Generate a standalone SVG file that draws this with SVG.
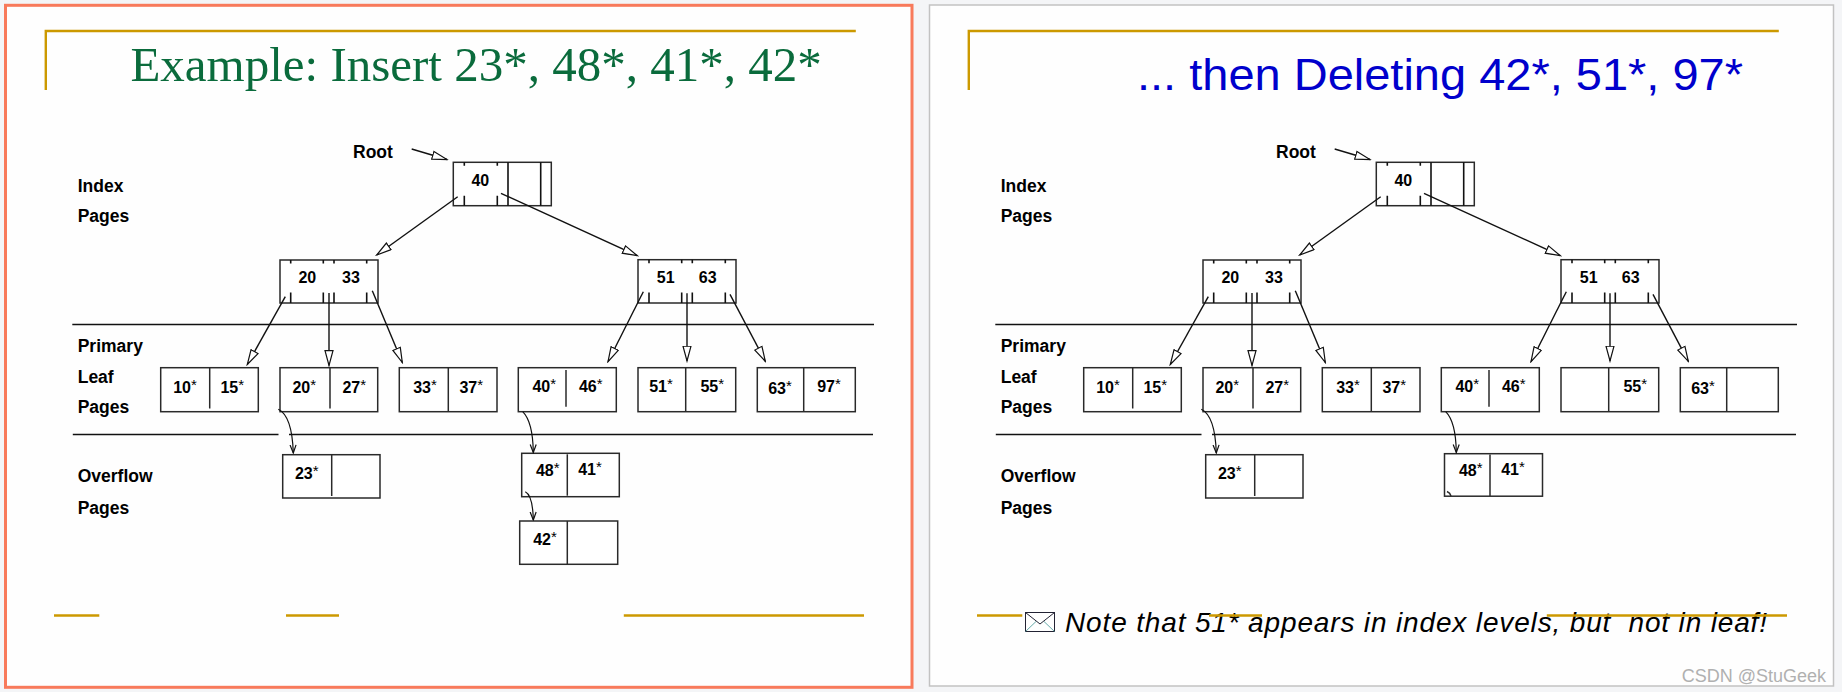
<svg xmlns="http://www.w3.org/2000/svg" width="1842" height="692" viewBox="0 0 1842 692">
<style>
.box{fill:#fff;stroke:#2a2a2a;stroke-width:1.5}
.ln{stroke:#2a2a2a;stroke-width:1.5;fill:none}
.tk{stroke:#111;stroke-width:1.6}
.sep{stroke:#111;stroke-width:1.6}
.lbl{font-family:"Liberation Sans",Arial,sans-serif;font-weight:bold;font-size:17.5px;fill:#000}
.num{font-family:"Liberation Sans",Arial,sans-serif;font-weight:bold;font-size:16px;text-anchor:middle;fill:#000}
.ast{font-weight:normal;font-size:15px;baseline-shift:3px}
.gold{stroke:#cc9900;stroke-width:2.4}
.arr{stroke:#111;stroke-width:1.4;fill:none;marker-end:url(#tri)}
.carr{stroke:#111;stroke-width:1.2;fill:none;marker-end:url(#vee)}
</style>
<defs>
<marker id="tri" markerUnits="userSpaceOnUse" markerWidth="17" markerHeight="11" refX="15.5" refY="5" orient="auto" viewBox="0 0 17 11"><path d="M0.7,1 L15.5,5 L0.7,9 z" fill="#fff" stroke="#111" stroke-width="1.2"/></marker>
<marker id="vee" markerUnits="userSpaceOnUse" markerWidth="10" markerHeight="8" refX="8.5" refY="3.5" orient="auto" viewBox="0 0 10 8"><path d="M0.5,0.5 L8.5,3.5 L0.5,6.5" fill="none" stroke="#111" stroke-width="1.2"/></marker>
</defs>
<rect x="0" y="0" width="1842" height="692" fill="#f4f5f7"/>
<rect id="left-panel" x="5.5" y="5.3" width="906.5" height="682" fill="#fefefe" stroke="#f87a5b" stroke-width="3"/>
<rect id="right-panel" x="929.5" y="5" width="904" height="681" fill="#fefefe" stroke="#c2c2c2" stroke-width="1.5"/>

<!-- titles and slide decorations -->
<g id="left-title">
<path class="gold" d="M45.8,90 V31 H855.8" fill="none"/>
<text x="130.4" y="81" font-family="Liberation Serif, Times New Roman, serif" font-size="49" fill="#0a6b3c">Example: Insert 23*, 48*, 41*, 42*</text>
</g>
<g id="right-title">
<path class="gold" d="M968.8,90 V31 H1778.8" fill="none"/>
<text x="1137" y="90" font-family="Liberation Sans, Arial, sans-serif" font-size="45" fill="#0000cc" textLength="606" lengthAdjust="spacingAndGlyphs">... then Deleting 42*, 51*, 97*</text>
</g>

<!-- LEFT DIAGRAM -->
<g id="left-labels" class="lbl">
<text x="353" y="158">Root</text>
<text x="77.7" y="191.7">Index</text>
<text x="77.7" y="221.7">Pages</text>
<text x="77.7" y="351.7">Primary</text>
<text x="77.7" y="382.7">Leaf</text>
<text x="77.7" y="413.3">Pages</text>
<text x="77.7" y="482">Overflow</text>
<text x="77.7" y="513.5">Pages</text>
</g>
<g id="left-separators">
<line class="sep" x1="72.3" y1="324.5" x2="874" y2="324.5"/>
<line class="sep" x1="72.8" y1="434.5" x2="278.5" y2="434.5"/>
<line class="sep" x1="289" y1="434.5" x2="873" y2="434.5"/>
</g>

<g id="L-root">
<rect class="box" x="453.3" y="162.3" width="98" height="43.4"/>
<path class="tk" d="M464.3,162.3v3.4M497.3,162.3v3.4M464.3,195.7v10M497.3,195.7v10M508,162.3v43.4M540.7,162.3v43.4"/>
<text class="num" x="480.3" y="185.7">40</text>
</g>
<g id="L-idx-20-33">
<rect class="box" x="280" y="260" width="98" height="43"/>
<path class="tk" d="M290.7,260v3.5M323.3,260v3.5M334,260v3.5M366.7,260v3.5M290.7,292.5v10.5M323.3,292.5v10.5M334,292.5v10.5M366.7,292.5v10.5"/>
<text class="num" x="307.3" y="283.3">20</text>
<text class="num" x="351" y="283.3">33</text>
</g>
<g id="L-idx-51-63">
<rect class="box" x="638" y="259.7" width="98" height="43.3"/>
<path class="tk" d="M649,259.7v3.5M681.7,259.7v3.5M692.3,259.7v3.5M725.3,259.7v3.5M649,292.5v10.5M681.7,292.5v10.5M692.3,292.5v10.5M725.3,292.5v10.5"/>
<text class="num" x="665.7" y="283.3">51</text>
<text class="num" x="707.7" y="283.3">63</text>
</g>

<g id="L-leaf-10-15">
<rect class="box" x="160.7" y="367.7" width="97.6" height="44"/>
<line class="ln" x1="209.7" y1="367.7" x2="209.7" y2="408.5"/>
<text class="num" x="185" y="393.3">10<tspan class="ast">*</tspan></text>
<text class="num" x="232.3" y="393.3">15<tspan class="ast">*</tspan></text>
</g>
<g id="L-leaf-20-27">
<rect class="box" x="280" y="367.7" width="97.7" height="44"/>
<line class="ln" x1="330" y1="367.7" x2="330" y2="408.5"/>
<text class="num" x="304.3" y="393.3">20<tspan class="ast">*</tspan></text>
<text class="num" x="354.3" y="393.3">27<tspan class="ast">*</tspan></text>
</g>
<g id="L-leaf-33-37">
<rect class="box" x="399.3" y="367.7" width="97.7" height="44"/>
<line class="ln" x1="448.3" y1="367.7" x2="448.3" y2="411.7"/>
<text class="num" x="425" y="393.3">33<tspan class="ast">*</tspan></text>
<text class="num" x="471.3" y="393.3">37<tspan class="ast">*</tspan></text>
</g>
<g id="L-leaf-40-46">
<rect class="box" x="518.3" y="367.7" width="98" height="44"/>
<line class="ln" x1="566" y1="370" x2="566" y2="406.7"/>
<text class="num" x="544.3" y="392.3">40<tspan class="ast">*</tspan></text>
<text class="num" x="590.7" y="391.7">46<tspan class="ast">*</tspan></text>
</g>
<g id="L-leaf-51-55">
<rect class="box" x="638" y="367.7" width="97.7" height="44"/>
<line class="ln" x1="685.7" y1="367.7" x2="685.7" y2="411.7"/>
<text class="num" x="661" y="392.3">51<tspan class="ast">*</tspan></text>
<text class="num" x="712.3" y="391.7">55<tspan class="ast">*</tspan></text>
</g>
<g id="L-leaf-63-97">
<rect class="box" x="757.3" y="367.7" width="98" height="44"/>
<line class="ln" x1="803.7" y1="367.7" x2="803.7" y2="411.7"/>
<text class="num" x="780" y="394">63<tspan class="ast">*</tspan></text>
<text class="num" x="829" y="392">97<tspan class="ast">*</tspan></text>
</g>
<g id="L-ovf-23">
<rect class="box" x="282.7" y="454.7" width="97.3" height="43.3"/>
<line class="ln" x1="331.7" y1="454.7" x2="331.7" y2="496"/>
<text class="num" x="306.7" y="479.3">23<tspan class="ast">*</tspan></text>
</g>
<g id="L-ovf-48-41">
<rect class="box" x="521.7" y="453.3" width="97.6" height="43.4"/>
<line class="ln" x1="567.3" y1="454.3" x2="567.3" y2="495.7"/>
<text class="num" x="547.7" y="475.5">48<tspan class="ast">*</tspan></text>
<text class="num" x="590" y="475">41<tspan class="ast">*</tspan></text>
</g>
<g id="L-ovf-42">
<rect class="box" x="519.7" y="521" width="98" height="43.3"/>
<line class="ln" x1="567.3" y1="521" x2="567.3" y2="564.3"/>
<text class="num" x="545" y="545">42<tspan class="ast">*</tspan></text>
</g>

<g id="L-connectors">
<path class="arr" d="M411.7,149 L447,159.5"/>
<path class="arr" d="M457.7,196.7 L376.7,255"/>
<path class="arr" d="M501,193.3 L637.3,255.7"/>
<path class="arr" d="M285.3,296.7 L247.3,364.5"/>
<path class="arr" d="M329,293 L329,365.5"/>
<path class="arr" d="M372.3,290.7 L402.3,362.5"/>
<path class="arr" d="M643.3,291.7 L608,361.7"/>
<path class="arr" d="M687,293.3 L687,361"/>
<path class="arr" d="M730,294.3 L765.3,361.3"/>
<path class="carr" d="M278.3,409.3 C288,414 292.5,428 293.3,453"/>
<path class="carr" d="M522.7,411.7 C529,418 533,430 533.3,452.5"/>
<path class="carr" d="M525.3,491.7 C530,494 533,505 533.3,520"/>
</g>

<g id="left-footer">
<line class="gold" x1="54" y1="615.5" x2="99.3" y2="615.5"/>
<line class="gold" x1="286" y1="615.5" x2="339" y2="615.5"/>
<line class="gold" x1="623.8" y1="615.5" x2="864" y2="615.5"/>
</g>

<!-- RIGHT DIAGRAM (offset +923) -->
<g id="right-labels" class="lbl">
<text x="1276" y="158">Root</text>
<text x="1000.7" y="191.7">Index</text>
<text x="1000.7" y="221.7">Pages</text>
<text x="1000.7" y="351.7">Primary</text>
<text x="1000.7" y="382.7">Leaf</text>
<text x="1000.7" y="413.3">Pages</text>
<text x="1000.7" y="482">Overflow</text>
<text x="1000.7" y="513.5">Pages</text>
</g>
<g id="right-separators">
<line class="sep" x1="995.3" y1="324.5" x2="1797" y2="324.5"/>
<line class="sep" x1="995.8" y1="434.5" x2="1201.5" y2="434.5"/>
<line class="sep" x1="1212" y1="434.5" x2="1796" y2="434.5"/>
</g>

<g id="R-root">
<rect class="box" x="1376.3" y="162.3" width="98" height="43.4"/>
<path class="tk" d="M1387.3,162.3v3.4M1420.3,162.3v3.4M1387.3,195.7v10M1420.3,195.7v10M1431,162.3v43.4M1463.7,162.3v43.4"/>
<text class="num" x="1403.3" y="185.7">40</text>
</g>
<g id="R-idx-20-33">
<rect class="box" x="1203" y="260" width="98" height="43"/>
<path class="tk" d="M1213.7,260v3.5M1246.3,260v3.5M1257,260v3.5M1289.7,260v3.5M1213.7,292.5v10.5M1246.3,292.5v10.5M1257,292.5v10.5M1289.7,292.5v10.5"/>
<text class="num" x="1230.3" y="283.3">20</text>
<text class="num" x="1274" y="283.3">33</text>
</g>
<g id="R-idx-51-63">
<rect class="box" x="1561" y="259.7" width="98" height="43.3"/>
<path class="tk" d="M1572,259.7v3.5M1604.7,259.7v3.5M1615.3,259.7v3.5M1648.3,259.7v3.5M1572,292.5v10.5M1604.7,292.5v10.5M1615.3,292.5v10.5M1648.3,292.5v10.5"/>
<text class="num" x="1588.7" y="283.3">51</text>
<text class="num" x="1630.7" y="283.3">63</text>
</g>

<g id="R-leaf-10-15">
<rect class="box" x="1083.7" y="367.7" width="97.6" height="44"/>
<line class="ln" x1="1132.7" y1="367.7" x2="1132.7" y2="408.5"/>
<text class="num" x="1108" y="393.3">10<tspan class="ast">*</tspan></text>
<text class="num" x="1155.3" y="393.3">15<tspan class="ast">*</tspan></text>
</g>
<g id="R-leaf-20-27">
<rect class="box" x="1203" y="367.7" width="97.7" height="44"/>
<line class="ln" x1="1253" y1="367.7" x2="1253" y2="408.5"/>
<text class="num" x="1227.3" y="393.3">20<tspan class="ast">*</tspan></text>
<text class="num" x="1277.3" y="393.3">27<tspan class="ast">*</tspan></text>
</g>
<g id="R-leaf-33-37">
<rect class="box" x="1322.3" y="367.7" width="97.7" height="44"/>
<line class="ln" x1="1371.3" y1="367.7" x2="1371.3" y2="411.7"/>
<text class="num" x="1348" y="393.3">33<tspan class="ast">*</tspan></text>
<text class="num" x="1394.3" y="393.3">37<tspan class="ast">*</tspan></text>
</g>
<g id="R-leaf-40-46">
<rect class="box" x="1441.3" y="367.7" width="98" height="44"/>
<line class="ln" x1="1489" y1="370" x2="1489" y2="406.7"/>
<text class="num" x="1467.3" y="392.3">40<tspan class="ast">*</tspan></text>
<text class="num" x="1513.7" y="391.7">46<tspan class="ast">*</tspan></text>
</g>
<g id="R-leaf-55">
<rect class="box" x="1561" y="367.7" width="97.7" height="44"/>
<line class="ln" x1="1608.7" y1="367.7" x2="1608.7" y2="411.7"/>
<text class="num" x="1635.3" y="391.7">55<tspan class="ast">*</tspan></text>
</g>
<g id="R-leaf-63">
<rect class="box" x="1680.3" y="367.7" width="98" height="44"/>
<line class="ln" x1="1726.7" y1="367.7" x2="1726.7" y2="411.7"/>
<text class="num" x="1703" y="394">63<tspan class="ast">*</tspan></text>
</g>
<g id="R-ovf-23">
<rect class="box" x="1205.7" y="454.7" width="97.3" height="43.3"/>
<line class="ln" x1="1254.7" y1="454.7" x2="1254.7" y2="496"/>
<text class="num" x="1229.7" y="479.3">23<tspan class="ast">*</tspan></text>
</g>
<g id="R-ovf-48-41">
<rect class="box" x="1444.5" y="453.7" width="98" height="42.5"/>
<line class="ln" x1="1490" y1="454.5" x2="1490" y2="496"/>
<text class="num" x="1470.7" y="475.5">48<tspan class="ast">*</tspan></text>
<text class="num" x="1513" y="475">41<tspan class="ast">*</tspan></text>
</g>

<g id="R-connectors">
<path class="arr" d="M1334.7,149 L1370,159.5"/>
<path class="arr" d="M1380.7,196.7 L1299.7,255"/>
<path class="arr" d="M1424,193.3 L1560.3,255.7"/>
<path class="arr" d="M1208.3,296.7 L1170.3,364.5"/>
<path class="arr" d="M1252,293 L1252,365.5"/>
<path class="arr" d="M1295.3,290.7 L1325.3,362.5"/>
<path class="arr" d="M1566.3,291.7 L1531,361.7"/>
<path class="arr" d="M1610,293.3 L1610,361"/>
<path class="arr" d="M1653,294.3 L1688.3,361.3"/>
<path class="carr" d="M1201.3,409.3 C1211,414 1215.5,428 1216.3,453"/>
<path class="carr" d="M1445.7,411.7 C1452,418 1456,430 1456.3,452.5"/>
<path class="ln" stroke-width="1.1" d="M1447,491.5 C1449,492.3 1450.5,494 1451,496"/>
</g>

<g id="note">
<g id="envelope-icon" fill="none" stroke="#223" stroke-width="1">
<rect x="1025.5" y="612.5" width="29" height="19" fill="#fff"/>
<path d="M1025.5,612.5 L1040,624 L1054.5,612.5"/>
<path d="M1025.5,631.5 L1036,621.5 M1054.5,631.5 L1044,621.5" stroke="#6aa"/>
</g>
<text x="1065" y="631.7" font-family="Liberation Sans, Arial, sans-serif" font-style="italic" font-size="28" fill="#000" textLength="702" xml:space="preserve">Note that 51* appears in index levels, but  not in leaf!</text>
</g>

<g id="right-footer">
<line class="gold" x1="977" y1="615.5" x2="1022.3" y2="615.5"/>
<line class="gold" x1="1209" y1="615.5" x2="1262" y2="615.5"/>
<line class="gold" x1="1546.8" y1="615.5" x2="1787" y2="615.5"/>
</g>

<text id="watermark" x="1681.7" y="681.7" font-family="Liberation Sans, Arial, sans-serif" font-size="18" fill="#b0b0b0">CSDN @StuGeek</text>
</svg>
